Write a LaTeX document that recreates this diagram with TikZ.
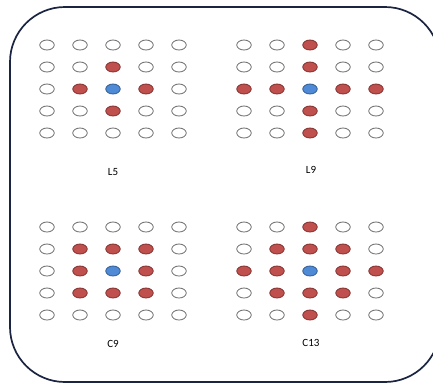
\documentclass[tikz,border=0pt]{standalone}
\usepackage{fontspec}
\setmainfont{Carlito}
\usetikzlibrary{shapes.geometric}
\definecolor{framenavy}{HTML}{1B2440}
\definecolor{redfill}{HTML}{C0504D}
\definecolor{reddraw}{HTML}{7E2E2C}
\definecolor{bluefill}{HTML}{4F8AD6}
\definecolor{bluedraw}{HTML}{2F5A8E}

\begin{document}
\begin{tikzpicture}[x=1pt, y=-1pt, font=\fontsize{11}{13}\selectfont,
  doto/.style={ellipse, draw=black!60, fill=white, line width=0.8pt, minimum width=14.5pt, minimum height=10pt, inner sep=0pt},
  dotr/.style={doto, draw=reddraw, fill=redfill},
  dotb/.style={doto, draw=bluedraw, fill=bluefill},
  lab/.style={inner sep=1pt, text=black},
  frame/.style={draw=framenavy, line width=1.7pt, rounded corners=55pt}]
  \clip (0,0) rectangle (433,384);
  \draw[frame] (10,7) rectangle (440,382);
  % L5 grid
  \foreach \row [count=\j] in {{o,o,o,o,o},{o,o,r,o,o},{o,r,b,r,o},{o,o,r,o,o},{o,o,o,o,o}}
    \foreach \k [count=\i] in \row
      \node[dot\k] (l5-\j-\i) at ({14+33*\i}, {23+22*\j}) {};
  % L9 grid
  \foreach \row [count=\j] in {{o,o,r,o,o},{o,o,r,o,o},{r,r,b,r,r},{o,o,r,o,o},{o,o,r,o,o}}
    \foreach \k [count=\i] in \row
      \node[dot\k] (l9-\j-\i) at ({211+33*\i}, {23+22*\j}) {};
  % C9 grid
  \foreach \row [count=\j] in {{o,o,o,o,o},{o,r,r,r,o},{o,r,b,r,o},{o,r,r,r,o},{o,o,o,o,o}}
    \foreach \k [count=\i] in \row
      \node[dot\k] (c9-\j-\i) at ({14+33*\i}, {205+22*\j}) {};
  % C13 grid
  \foreach \row [count=\j] in {{o,o,r,o,o},{o,r,r,r,o},{r,r,b,r,r},{o,r,r,r,o},{o,o,r,o,o}}
    \foreach \k [count=\i] in \row
      \node[dot\k] (c13-\j-\i) at ({211+33*\i}, {205+22*\j}) {};
  % labels
  \node[lab] (l5)  at (113,172) {L5};
  \node[lab] (l9)  at (311,170) {L9};
  \node[lab] (c9)  at (113,344) {C9};
  \node[lab] (c13) at (311,343) {C13};
\end{tikzpicture}
\end{document}
